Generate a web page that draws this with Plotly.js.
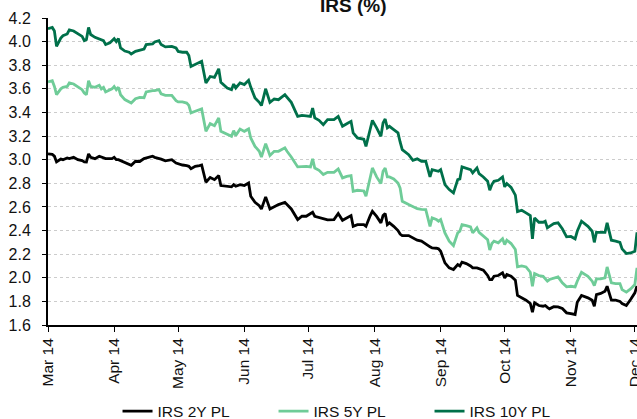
<!DOCTYPE html>
<html>
<head>
<meta charset="utf-8">
<script src="https://cdn.plot.ly/plotly-3.0.1.min.js"></script>
<style>html,body{margin:0;padding:0;background:#fff;}#chart{width:637px;height:419px;}</style>
</head>
<body>
<div id="chart"></div>
<script>
const dates = ['2014-03-01','2014-03-03','2014-03-04','2014-03-05','2014-03-07','2014-03-08','2014-03-10','2014-03-11','2014-03-13','2014-03-15',
'2014-03-17','2014-03-18','2014-03-19','2014-03-20','2014-03-21','2014-03-23','2014-03-25','2014-03-26','2014-03-27','2014-03-28',
'2014-03-30','2014-03-31','2014-04-01','2014-04-02','2014-04-03','2014-04-04','2014-04-06','2014-04-08','2014-04-09','2014-04-11',
'2014-04-13','2014-04-15','2014-04-16','2014-04-19','2014-04-20','2014-04-22','2014-04-23','2014-04-25','2014-04-28','2014-04-30',
'2014-05-01','2014-05-03','2014-05-05','2014-05-06','2014-05-07','2014-05-09','2014-05-11','2014-05-12','2014-05-14','2014-05-16',
'2014-05-18','2014-05-20','2014-05-21','2014-05-24','2014-05-26','2014-05-27','2014-05-28','2014-05-30','2014-06-01','2014-06-03',
'2014-06-04','2014-06-06','2014-06-08','2014-06-09','2014-06-11','2014-06-13','2014-06-15','2014-06-17','2014-06-20','2014-06-21',
'2014-06-23','2014-06-26','2014-06-28','2014-06-30','2014-07-02','2014-07-03','2014-07-04','2014-07-06','2014-07-08','2014-07-10',
'2014-07-13','2014-07-15','2014-07-17','2014-07-19','2014-07-21','2014-07-22','2014-07-24','2014-07-27','2014-07-28','2014-07-30',
'2014-07-31','2014-08-02','2014-08-04','2014-08-05','2014-08-06','2014-08-07','2014-08-08','2014-08-10','2014-08-12','2014-08-13',
'2014-08-14','2014-08-17','2014-08-19','2014-08-21','2014-08-23','2014-08-25','2014-08-26','2014-08-27','2014-08-28','2014-08-30',
'2014-08-31','2014-09-01','2014-09-03','2014-09-05','2014-09-07','2014-09-09','2014-09-10','2014-09-11','2014-09-13','2014-09-15',
'2014-09-16','2014-09-18','2014-09-19','2014-09-21','2014-09-23','2014-09-24','2014-09-25','2014-09-26','2014-09-28','2014-09-30',
'2014-10-01','2014-10-02','2014-10-04','2014-10-06','2014-10-07','2014-10-09','2014-10-11','2014-10-13','2014-10-14','2014-10-15',
'2014-10-17','2014-10-19','2014-10-20','2014-10-21','2014-10-22','2014-10-24','2014-10-26','2014-10-28','2014-10-30','2014-11-01',
'2014-11-03','2014-11-04','2014-11-06','2014-11-09','2014-11-11','2014-11-12','2014-11-13','2014-11-15','2014-11-17','2014-11-18',
'2014-11-20','2014-11-22','2014-11-24','2014-11-25','2014-11-27','2014-11-29','2014-12-01','2014-12-02'];

const irs10y = [4.11,4.12,4.09,3.96,4.03,4.05,4.065,4.10,4.09,4.07,
4.044,4.008,4.017,4.12,4.06,4.036,4.025,4.017,4.008,3.975,
3.99,4.008,4.025,4.00,4.025,3.946,3.92,3.91,3.895,3.917,
3.93,3.937,3.975,3.98,3.997,4.008,3.975,3.955,3.96,3.946,
3.917,3.91,3.91,3.883,3.79,3.81,3.824,3.833,3.65,3.705,
3.697,3.77,3.655,3.607,3.593,3.64,3.607,3.65,3.636,3.672,
3.615,3.523,3.486,3.458,3.60,3.486,3.514,3.508,3.55,3.53,
3.486,3.367,3.376,3.372,3.367,3.438,3.354,3.333,3.297,3.339,
3.339,3.367,3.283,3.305,3.325,3.227,3.184,3.173,3.113,3.26,
3.333,3.269,3.198,3.311,3.345,3.269,3.283,3.255,3.227,3.15,
3.085,3.043,2.995,3.007,2.987,2.987,2.93,2.854,2.916,2.91,
2.902,2.916,2.789,2.747,2.719,2.831,2.837,2.939,2.93,2.916,
2.888,2.93,2.882,2.854,2.817,2.741,2.789,2.817,2.826,2.854,
2.77,2.798,2.765,2.70,2.56,2.572,2.55,2.527,2.33,2.507,
2.47,2.47,2.479,2.423,2.435,2.459,2.465,2.415,2.347,2.35,
2.33,2.394,2.479,2.436,2.394,2.30,2.385,2.385,2.385,2.465,
2.318,2.31,2.30,2.245,2.205,2.21,2.224,2.385];

const irs5y = [3.658,3.669,3.62,3.55,3.60,3.613,3.62,3.65,3.641,3.62,
3.593,3.565,3.55,3.669,3.62,3.613,3.63,3.60,3.613,3.574,
3.593,3.60,3.62,3.593,3.613,3.55,3.509,3.494,3.48,3.517,
3.528,3.525,3.574,3.585,3.585,3.593,3.557,3.545,3.545,3.50,
3.489,3.489,3.48,3.46,3.396,3.41,3.424,3.43,3.24,3.305,
3.288,3.354,3.24,3.212,3.198,3.246,3.204,3.26,3.24,3.26,
3.184,3.113,3.071,3.023,3.136,3.035,3.071,3.071,3.10,3.071,
3.023,2.939,2.944,2.944,2.939,3.007,2.93,2.91,2.874,2.893,
2.893,2.922,2.846,2.859,2.865,2.732,2.741,2.735,2.69,2.846,
2.93,2.854,2.798,2.902,2.93,2.854,2.854,2.837,2.803,2.76,
2.648,2.62,2.60,2.585,2.58,2.578,2.507,2.436,2.507,2.493,
2.479,2.493,2.38,2.31,2.273,2.38,2.394,2.45,2.442,2.431,
2.38,2.423,2.385,2.351,2.323,2.235,2.29,2.31,2.296,2.33,
2.281,2.318,2.29,2.239,2.092,2.10,2.092,2.047,1.928,2.036,
2.019,2.013,1.99,1.971,1.985,1.999,2.008,1.957,1.923,1.928,
1.923,1.971,2.047,2.013,1.971,1.934,1.99,1.99,2.0,2.092,
1.957,1.951,1.951,1.90,1.878,1.906,1.943,2.084];

const irs2y = [3.049,3.045,3.03,2.981,3.005,3.0,3.015,3.01,3.02,3.0,
2.992,2.981,2.98,3.049,3.02,3.009,3.029,3.02,3.012,3.009,
3.009,3.009,3.02,3.0,3.0,2.992,2.981,2.965,2.952,2.987,
2.985,3.009,3.015,3.029,3.02,3.012,3.005,2.99,3.0,2.972,
2.965,2.955,2.95,2.944,2.924,2.944,2.95,2.955,2.809,2.85,
2.831,2.865,2.781,2.775,2.77,2.789,2.775,2.789,2.781,2.803,
2.69,2.639,2.611,2.583,2.685,2.583,2.605,2.62,2.639,2.62,
2.583,2.493,2.521,2.521,2.54,2.555,2.521,2.51,2.495,2.49,
2.493,2.544,2.487,2.507,2.527,2.436,2.45,2.45,2.436,2.527,
2.563,2.52,2.465,2.527,2.544,2.45,2.465,2.436,2.40,2.37,
2.357,2.357,2.338,2.318,2.31,2.29,2.275,2.262,2.253,2.25,
2.245,2.225,2.126,2.084,2.07,2.112,2.10,2.132,2.12,2.10,
2.084,2.084,2.075,2.064,2.02,1.985,1.985,2.013,2.019,2.042,
1.999,2.027,2.013,1.98,1.85,1.83,1.81,1.782,1.708,1.788,
1.765,1.759,1.765,1.75,1.737,1.755,1.754,1.74,1.703,1.697,
1.689,1.793,1.85,1.83,1.81,1.759,1.858,1.867,1.886,1.928,
1.81,1.81,1.80,1.782,1.765,1.816,1.872,1.93];

const chartTitle = 'IRS (%)';
const seriesNames = ['IRS 2Y PL','IRS 5Y PL','IRS 10Y PL'];
const seriesColors = ['#000000','#6fcc98','#00704a'];
const monthTicks = ['2014-03-01','2014-04-01','2014-05-01','2014-06-01','2014-07-01','2014-08-01','2014-09-01','2014-10-01','2014-11-01','2014-12-01'];
const monthLabels = ['Mar 14','Apr 14','May 14','Jun 14','Jul 14','Aug 14','Sep 14','Oct 14','Nov 14','Dec 14'];

const values = [irs2y, irs5y, irs10y];
const traces = values.map((v, i) => ({
  type: 'scatter', mode: 'lines', x: dates, y: v, name: seriesNames[i],
  line: {color: seriesColors[i], width: 2.8}
}));

const layout = {
  width: 637, height: 419,
  margin: {l: 48, r: 0, t: 18, b: 94, pad: 0},
  paper_bgcolor: '#ffffff', plot_bgcolor: '#ffffff',
  font: {family: 'Arial, "Liberation Sans", sans-serif', color: '#111'},
  annotations: [{text: '<b>' + chartTitle + '</b>', font: {size: 19, color: '#111'}, showarrow: false,
                 xref: 'paper', yref: 'paper', x: 0.5187, xanchor: 'center', y: 1, yanchor: 'bottom', yshift: 1, borderpad: 0}],
  showlegend: true,
  legend: {orientation: 'h', xref: 'container', yref: 'container', x: 0.1845, xanchor: 'left', y: 0.018, yanchor: 'middle',
           font: {size: 15.5, color: '#111'}, entrywidth: 111, entrywidthmode: 'pixels', bgcolor: 'rgba(0,0,0,0)'},
  xaxis: {type: 'date', range: ['2014-03-01', '2014-12-02'], tickmode: 'array', tickvals: monthTicks, ticktext: monthLabels,
          tickangle: -90, ticks: 'outside', ticklen: 5, tickwidth: 1, tickcolor: '#000', showline: true, linecolor: '#000', linewidth: 2,
          showgrid: false, zeroline: false, tickfont: {size: 15.5, color: '#111'}, ticklabeloverflow: 'allow', fixedrange: true},
  yaxis: {range: [1.6, 4.2], tickmode: 'linear', tick0: 1.6, dtick: 0.2, tickformat: '.1f', ticks: 'outside', ticklen: 4,
          tickcolor: '#000', showline: true, linecolor: '#000', linewidth: 2, showgrid: true, gridcolor: '#cccccc', gridwidth: 1,
          griddash: 'dot', zeroline: false, tickfont: {size: 16, color: '#111'}, ticklabelstandoff: 8, fixedrange: true}
};

Plotly.newPlot('chart', traces, layout, {displayModeBar: false, staticPlot: true});
</script>
</body>
</html>
